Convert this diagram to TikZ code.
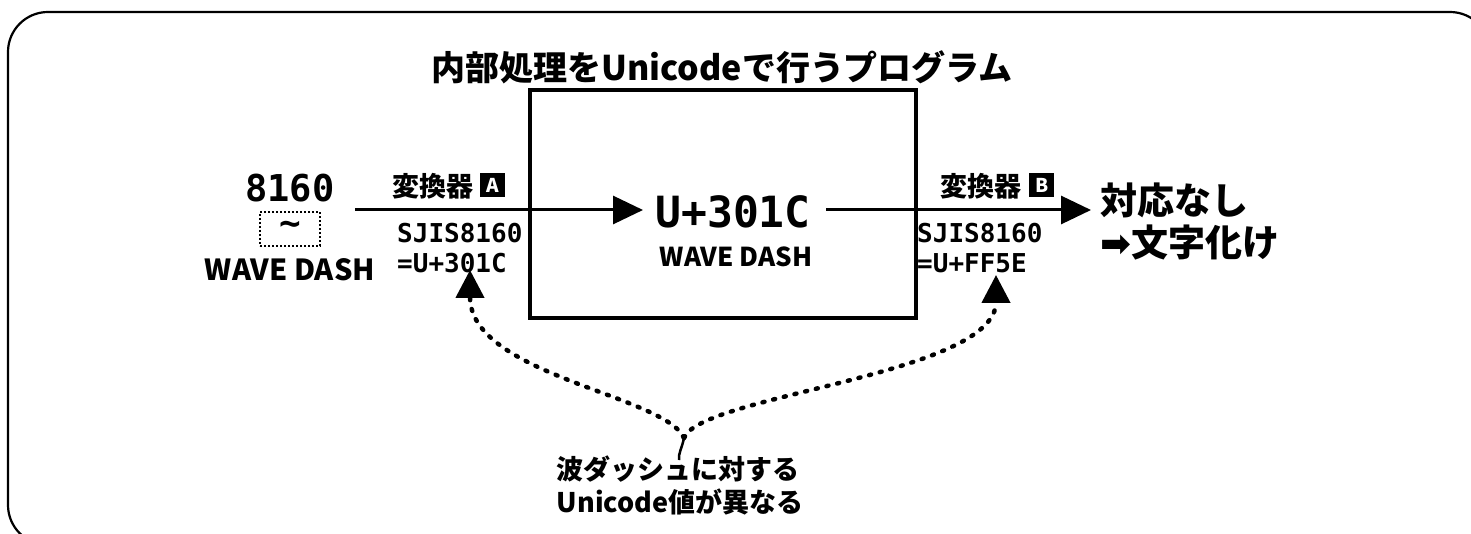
\documentclass[tikz,border=0pt]{standalone}
\usepackage{fontspec}
\usetikzlibrary{arrows.meta}
\newfontfamily\jp{Noto Sans CJK JP}
\newfontfamily\mono{DejaVu Sans Mono}
\newfontfamily\dv{DejaVu Sans}
\tikzset{
  jptext/.style={font=\jp\bfseries, inner sep=0pt},
  monotext/.style={inner sep=0pt},
  bigarrow/.style={line width=3pt, -{Triangle[length=30pt,width=28pt]}},
  dotarrow/.style={line width=4.5pt, line cap=round, dash pattern=on 2pt off 9pt, -{Triangle[length=28pt,width=28pt]}},
  tag/.style={fill=black, text=white, font=\jp\bfseries\fontsize{19}{19}\selectfont, minimum width=25pt, minimum height=24pt, inner sep=0pt},
}
\begin{document}
\begin{tikzpicture}[x=1pt,y=-1pt]
\useasboundingbox (0,0) rectangle (1471,534);
\begin{scope}
\clip (0,0) rectangle (1471,534);
\draw[line width=2.2pt, rounded corners=40pt] (8,12) rectangle (1490,545);
\end{scope}

% title and program box
\node[jptext, font=\jp\bfseries\fontsize{34}{34}\selectfont] (title) at (722,67) {内部処理をUnicodeで行うプログラム};
\draw[line width=4pt] (530,90) rectangle (916,318);
\node[draw=none] (prog) at (723,204) {};

% source
\node[monotext, font=\mono\bfseries\fontsize{37}{37}\selectfont] (code) at (290,188) {8160};
\node[draw, dotted, line width=2pt, minimum width=60pt, minimum height=34pt, inner sep=0pt, font=\mono\bfseries\fontsize{36}{36}\selectfont] (glyph) at (290,229) {\raisebox{1pt}{\char"007E}};
\node[jptext, font=\jp\bfseries\fontsize{29}{29}\selectfont] (wd1) at (290,270) {WAVE DASH};

% converter A
\coordinate (aS) at (355,210);
\coordinate (aE) at (643,210);
\draw[bigarrow] (aS) -- (aE);
\node[jptext, font=\jp\bfseries\fontsize{27}{27}\selectfont, anchor=west] (convA) at (392,186) {変換器};
\node[tag, anchor=west] (tagA) at (480,185) {A};
\node[monotext, font=\mono\bfseries\fontsize{26}{26}\selectfont, anchor=west] (sjA) at (397,233) {SJIS8160};
\node[monotext, font=\mono\bfseries\fontsize{26}{26}\selectfont, anchor=west] (uA) at (397,263) {=U+301C};

% center
\node[monotext, font=\mono\bfseries\fontsize{43}{43}\selectfont] (u301c) at (733,212) {U+301C};
\node[jptext, font=\jp\bfseries\fontsize{26}{26}\selectfont] (wd2) at (736,257) {WAVE DASH};

% converter B
\coordinate (bS) at (826,210);
\coordinate (bE) at (1091,210);
\draw[bigarrow] (bS) -- (bE);
\node[jptext, font=\jp\bfseries\fontsize{27}{27}\selectfont, anchor=west] (convB) at (940,186) {変換器};
\node[tag, anchor=west] (tagB) at (1029,185) {B};
\node[monotext, font=\mono\bfseries\fontsize{26}{26}\selectfont, anchor=west] (sjB) at (917,233) {SJIS8160};
\node[monotext, font=\mono\bfseries\fontsize{26}{26}\selectfont, anchor=west] (uB) at (917,263) {=U+FF5E};

% result
\node[jptext, font=\jp\bfseries\fontsize{37}{37}\selectfont, anchor=west] (res1) at (1100,200) {対応なし};
\node[jptext, font=\jp\bfseries\fontsize{37}{37}\selectfont, anchor=west] (res2) at (1100,243) {{\dv ➡}文字化け};

% note
\node[jptext, font=\jp\bfseries\fontsize{27}{33}\selectfont, align=left] (note) at (680,485) {波ダッシュに対する\\Unicode値が異なる};
\coordinate (J) at (684,438);
\coordinate (tipA) at (470,270);
\coordinate (tipB) at (996,275);
\draw[line width=2.5pt] (J) .. controls (682,448) and (678,454) .. (679,460);
\draw[dotarrow] (J) .. controls (665,395) and (470,375) .. (tipA);
\draw[dotarrow] (J) .. controls (700,395) and (996,375) .. (tipB);
\end{tikzpicture}
\end{document}
